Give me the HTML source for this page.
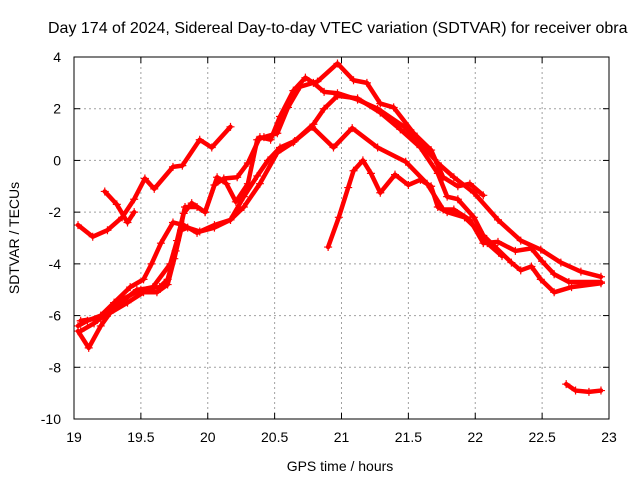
<!DOCTYPE html>
<html><head><meta charset="utf-8"><style>
body{margin:0;background:#fff;}
svg{display:block;font-family:"Liberation Sans",sans-serif;}
</style></head><body>
<svg id="chart" width="640" height="480">
<text x="48" y="33" font-size="16">Day 174 of 2024, Sidereal Day-to-day VTEC variation (SDTVAR) for receiver obra</text>
<text x="340" y="471" font-size="14" text-anchor="middle">GPS time / hours</text>
<text transform="translate(19,238) rotate(-90)" font-size="14" text-anchor="middle">SDTVAR / TECUs</text>
<g id="grid"></g><g id="series"></g><g id="frame"></g>
</svg>
<script>
const xTicks=[19,19.5,20,20.5,21,21.5,22,22.5,23];
const xTickLabels=["19","19.5","20","20.5","21","21.5","22","22.5","23"];
const yTicks=[4,2,0,-2,-4,-6,-8,-10];
const yTickLabels=["4","2","0","-2","-4","-6","-8","-10"];
const seriesA=[[19.03,-2.5],[19.14,-2.95],[19.25,-2.7],[19.36,-2.2],[19.45,-1.5],[19.53,-0.7],[19.6,-1.1],[19.74,-0.25],[19.81,-0.2],[19.94,0.8],[20.03,0.5],[20.17,1.3]];
const seriesB=[[19.23,-1.2],[19.32,-1.7],[19.4,-2.4],[19.45,-2.0]];
const seriesP=[[19.03,-6.4],[19.1,-6.2],[19.2,-6.0],[19.3,-5.5],[19.42,-4.9],[19.52,-4.6],[19.58,-4.0],[19.65,-3.2],[19.74,-2.4],[19.82,-2.5],[19.92,-2.8],[20.05,-2.5],[20.17,-2.3],[20.27,-1.8],[20.39,-0.9],[20.52,0.3],[20.64,0.7],[20.78,1.3],[20.94,0.5],[21.08,1.25],[21.27,0.5],[21.48,-0.05],[21.64,-0.9],[21.76,-1.9],[21.84,-1.9],[21.96,-2.3],[22.06,-3.2],[22.17,-3.15],[22.3,-3.5],[22.42,-3.4],[22.5,-3.9],[22.59,-4.4],[22.7,-4.7],[22.94,-4.7]];
const seriesQ=[[19.05,-6.6],[19.15,-6.3],[19.3,-5.7],[19.47,-5.0],[19.64,-4.9],[19.7,-4.6],[19.76,-3.5],[19.82,-2.05],[19.88,-1.65],[19.98,-2.0],[20.05,-0.95],[20.12,-0.7],[20.22,-0.65],[20.3,-0.1],[20.39,0.9],[20.47,0.8],[20.54,1.7],[20.64,2.7],[20.73,3.2],[20.79,3.0],[20.87,2.65],[20.97,2.6],[21.12,2.35],[21.27,2.0],[21.47,1.3],[21.62,0.5],[21.72,-0.1],[21.84,-0.65],[21.99,-1.25],[22.17,-2.3],[22.34,-3.1],[22.49,-3.45],[22.64,-3.95],[22.79,-4.3],[22.94,-4.5]];
const seriesR=[[19.05,-6.2],[19.2,-6.1],[19.35,-5.4],[19.5,-5.0],[19.59,-4.9],[19.72,-4.0],[19.77,-3.1],[19.83,-1.8],[19.92,-1.8],[19.98,-2.0],[20.07,-0.65],[20.14,-0.9],[20.21,-1.6],[20.3,-0.9],[20.37,0.8],[20.42,0.9],[20.52,1.05],[20.6,2.05],[20.69,2.85],[20.82,3.05],[20.97,3.75],[21.09,3.1],[21.19,3.0],[21.29,2.2],[21.39,2.05],[21.54,1.05],[21.67,0.4],[21.76,-0.65],[21.87,-1.0],[21.96,-0.9],[22.06,-1.35]];
const seriesS=[[19.03,-6.6],[19.11,-7.25],[19.2,-6.4],[19.27,-5.9],[19.4,-5.5],[19.52,-5.1],[19.62,-5.1],[19.7,-4.8],[19.75,-3.8],[19.8,-2.7],[19.85,-2.6],[19.94,-2.75],[20.05,-2.6],[20.17,-2.3],[20.27,-1.4],[20.37,-0.6],[20.45,0.0],[20.54,0.5],[20.65,0.75],[20.79,1.4],[20.87,2.0],[20.97,2.5],[21.12,2.4],[21.29,1.85],[21.44,1.2],[21.59,0.5],[21.72,-0.5],[21.79,-1.4],[21.87,-1.5],[21.99,-2.2],[22.06,-2.9],[22.14,-3.3],[22.27,-3.95],[22.34,-4.25],[22.42,-4.1],[22.49,-4.6],[22.59,-5.1],[22.72,-4.9],[22.94,-4.75]];
const seriesT=[[20.9,-3.35],[20.98,-2.2],[21.05,-1.05],[21.09,-0.4],[21.16,0.0],[21.22,-0.5],[21.29,-1.25],[21.4,-0.55],[21.5,-0.95],[21.59,-0.75],[21.67,-1.0],[21.72,-1.8],[21.79,-2.0],[21.92,-2.2],[22.02,-2.7],[22.09,-3.2],[22.2,-3.7]];
const seriesU=[[22.68,-8.65],[22.75,-8.9],[22.85,-8.95],[22.94,-8.9]];
const allSeries=[seriesA,seriesB,seriesP,seriesQ,seriesR,seriesS,seriesT,seriesU];
const seriesNames=["series-a","series-b","series-p","series-q","series-r","series-s","series-t","series-u"];

const L=74,R=609,T=57,B=419;
const xs=v=>L+(v-19)/4*(R-L);
const ys=v=>T+(4-v)/14*(B-T);
const NS="http://www.w3.org/2000/svg";
function mk(tag,attrs,parent){const e=document.createElementNS(NS,tag);for(const k in attrs)e.setAttribute(k,attrs[k]);parent.appendChild(e);return e;}
const grid=document.getElementById('grid'),frame=document.getElementById('frame'),ser=document.getElementById('series');
xTicks.forEach((t,i)=>{const x=xs(t);
 if(i>0&&i<xTicks.length-1){const g=mk('line',{x1:x,x2:x,y1:T,y2:B,stroke:'#a0a0a0','stroke-dasharray':'2,3'},grid);
 
 }
 mk('line',{x1:x,x2:x,y1:B,y2:B-6,stroke:'#000'},frame);
 mk('line',{x1:x,x2:x,y1:T,y2:T+6,stroke:'#000'},frame);
 const tx=mk('text',{x:x,y:442,'font-size':14,'text-anchor':'middle'},frame);tx.textContent=xTickLabels[i];
 
 
});
yTicks.forEach((t,i)=>{const y=ys(t);
 if(i>0&&i<yTicks.length-1){const g=mk('line',{x1:L,x2:R,y1:y,y2:y,stroke:'#a0a0a0','stroke-dasharray':'2,3'},grid);
 
 }
 mk('line',{x1:L,x2:L+6,y1:y,y2:y,stroke:'#000'},frame);
 mk('line',{x1:R,x2:R-6,y1:y,y2:y,stroke:'#000'},frame);
 const tx=mk('text',{x:61,y:y+5,'font-size':14,'text-anchor':'end'},frame);tx.textContent=yTickLabels[i];
 
 
});
const fr=mk('rect',{x:L,y:T,width:R-L,height:B-T,fill:'none',stroke:'#000'},frame);


allSeries.forEach((s,i)=>{
 const g=mk('g',{},ser);
 
 
 mk('polyline',{points:s.map(p=>xs(p[0])+','+ys(p[1])).join(' '),fill:'none',stroke:'#f00','stroke-width':4.5,'stroke-linejoin':'round','stroke-linecap':'round'},g);
 s.forEach(p=>{const x=xs(p[0]),y=ys(p[1]);
  mk('path',{d:`M${x-4},${y}H${x+4}M${x},${y-4}V${y+4}`,stroke:'#f00','stroke-width':1.2},g);});
});
</script>
</body></html>
